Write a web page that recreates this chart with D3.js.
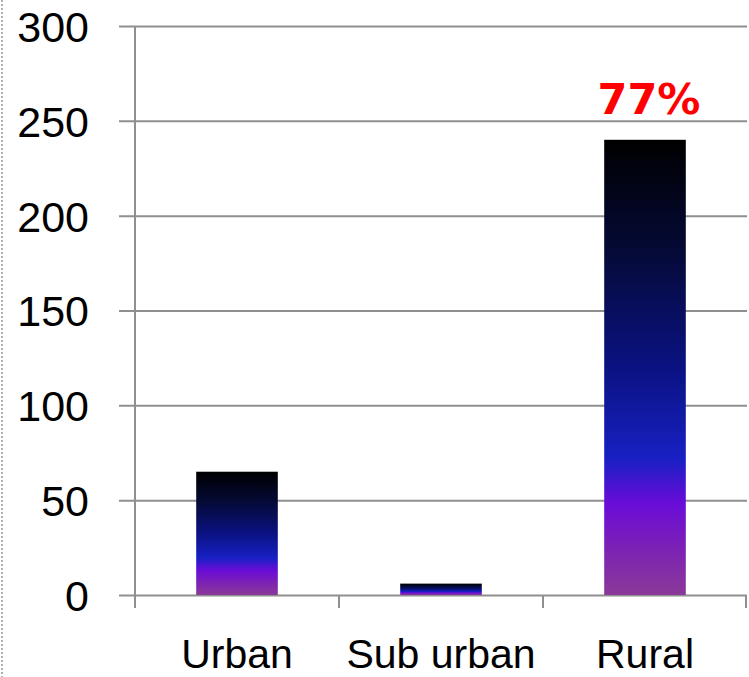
<!DOCTYPE html>
<html>
<head>
<meta charset="utf-8">
<script src="https://cdn.jsdelivr.net/npm/d3@7"></script>
<style>
  html, body { margin: 0; padding: 0; background: #fff; }
  svg { display: block; }
</style>
</head>
<body>
<svg id="chart" width="749" height="677"></svg>
<script>
// Respondents by area type
const categories = ["Urban", "Sub urban", "Rural"];
const values = [65, 6, 240];
const yTicks = [0, 50, 100, 150, 200, 250, 300];
const annotations = [{ category: "Rural", text: "77%" }];

const svg = d3.select("#chart");
const W = 749, H = 677;
const margin = { left: 135, right: 2, top: 26, bottom: 82 };

const x = d3.scaleBand()
  .domain(categories)
  .range([margin.left, W - margin.right])
  .padding(0);

const y = d3.scaleLinear()
  .domain([0, 300])
  .range([H - margin.bottom, margin.top]);

const barFrac = 0.4;
const gridColor = "#8f8f8f";
const font = "'Liberation Sans', Arial, sans-serif";

// dashed frame edge on the far left
svg.append("line")
  .attr("x1", 2).attr("x2", 2).attr("y1", 0).attr("y2", H)
  .attr("stroke", "#b0b0b0").attr("stroke-width", 2)
  .attr("stroke-dasharray", "2,2");

// bar fill gradient
const defs = svg.append("defs");
const grad = defs.append("linearGradient")
  .attr("id", "barGrad")
  .attr("x1", 0).attr("y1", 0).attr("x2", 0).attr("y2", 1);
[
  [0, "#000000"],
  [0.25, "#050a38"],
  [0.5, "#0a1282"],
  [0.7, "#1820c4"],
  [0.8, "#6a0cd8"],
  [0.9, "#7c22b4"],
  [1, "#8a3a98"]
].forEach(([o, c]) => grad.append("stop").attr("offset", o).attr("stop-color", c));

// horizontal gridlines + y axis via d3.axisLeft
const yAxis = d3.axisLeft(y)
  .tickValues(yTicks)
  .tickSize(W - margin.right - margin.left + 16)
  .tickFormat(d3.format("d"))
  .tickPadding(30);

const gy = svg.append("g")
  .attr("transform", `translate(${W - margin.right},0)`)
  .call(yAxis);
gy.select(".domain").remove();
gy.selectAll(".tick line")
  .attr("stroke", gridColor).attr("stroke-width", 2);
gy.selectAll(".tick text")
  .attr("x", -(W - margin.right) + 89)
  .attr("font-family", font)
  .attr("font-size", 43)
  .attr("fill", "#000")
  .attr("dy", "0.36em");

// vertical axis line
svg.append("line")
  .attr("x1", margin.left).attr("x2", margin.left)
  .attr("y1", y(300)).attr("y2", y(0) + 13)
  .attr("stroke", gridColor).attr("stroke-width", 2);

// x axis with category ticks at band edges
const xAxis = d3.axisBottom(x).tickSize(0).tickPadding(44);
const gx = svg.append("g")
  .attr("transform", `translate(0,${y(0)})`)
  .call(xAxis);
gx.select(".domain").remove();
gx.selectAll(".tick text")
  .attr("font-family", font)
  .attr("font-size", 41)
  .attr("fill", "#000");

const edges = categories.map(c => x(c)).concat([x(categories[categories.length - 1]) + x.bandwidth()]);
svg.append("g").selectAll("line")
  .data(edges.slice(1))
  .join("line")
  .attr("x1", d => Math.min(d, W - 3)).attr("x2", d => Math.min(d, W - 3))
  .attr("y1", y(0)).attr("y2", y(0) + 13)
  .attr("stroke", gridColor).attr("stroke-width", 2);

// bars
const bw = x.bandwidth() * barFrac;
svg.append("g").selectAll("rect")
  .data(categories.map((c, i) => ({ c, v: values[i] })))
  .join("rect")
  .attr("x", d => x(d.c) + (x.bandwidth() - bw) / 2)
  .attr("width", bw)
  .attr("y", d => y(d.v))
  .attr("height", d => y(0) - y(d.v))
  .attr("fill", "url(#barGrad)");

// percentage annotation above the rural bar
svg.append("g").selectAll("text")
  .data(annotations)
  .join("text")
  .attr("x", d => x(d.category) + x.bandwidth() / 2 + 4)
  .attr("y", d => y(values[categories.indexOf(d.category)]) - 26)
  .attr("text-anchor", "middle")
  .attr("font-family", "'DejaVu Sans', sans-serif")
  .attr("font-weight", "bold")
  .attr("font-size", 43)
  .attr("fill", "#ff0000")
  .text(d => d.text);
</script>
</body>
</html>
